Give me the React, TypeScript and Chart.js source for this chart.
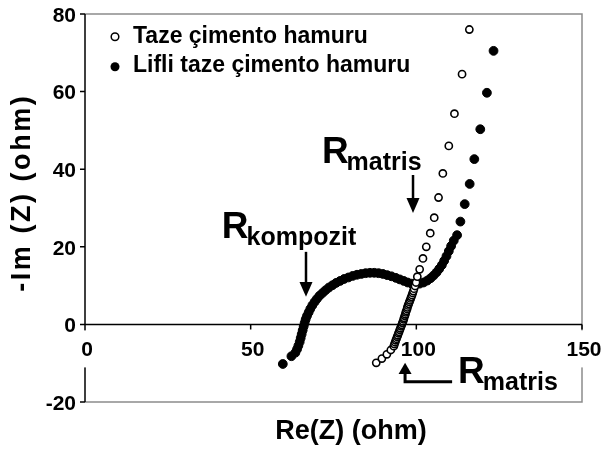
import React, { useEffect, useRef } from "react";
import { Chart, registerables } from "chart.js";
Chart.register(...registerables);

const seriesNames = ["Taze çimento hamuru", "Lifli taze çimento hamuru"];

const tazeX = [87.9, 89.6, 91.1, 92.3,
  93.2, 93.4, 93.6, 93.8, 94.0, 94.2, 94.4, 94.6, 94.8, 95.0, 95.2, 95.4, 95.6, 95.8, 96.0, 96.2, 96.3, 96.5,
  96.7, 96.8, 97.0, 97.2, 97.3, 97.5, 97.7, 97.9, 98.1, 98.3, 98.5, 98.7, 98.9, 99.1, 99.3, 99.6, 99.9,
  100.3, 101.0, 102.0, 103.0, 104.2, 105.4, 106.7, 108.0, 109.8, 111.5, 113.8, 116.0];
const tazeY = [-9.9, -8.8, -7.7, -6.6,
  -5.6, -5.1, -4.6, -4.1, -3.7, -3.2, -2.8, -2.3, -1.9, -1.4, -1.0, -0.5, -0.1, 0.4, 0.8, 1.3, 1.7, 2.2,
  2.6, 3.1, 3.5, 4.0, 4.4, 4.9, 5.3, 5.8, 6.2, 6.7, 7.1, 7.6, 8.1, 8.6, 9.2, 9.9, 10.8,
  12.3, 14.2, 17.0, 20.0, 23.5, 27.5, 32.7, 38.9, 46.0, 54.3, 64.5, 76.0];

const lifliX = [59.7, 62.3, 63.5, 64.0, 64.4, 64.8, 65.1, 65.4, 65.7, 66.0, 66.3, 66.6, 67.0, 67.5, 68.0,
  68.6, 69.3, 70.0, 70.8, 71.7, 72.6, 73.6, 74.7, 75.8, 77.0, 78.2, 79.5, 80.8, 82.1, 83.4, 84.7, 86.0,
  87.3, 88.6, 89.9, 91.2, 92.5, 93.8, 95.0, 96.2, 97.4, 98.6, 99.8, 101.0, 102.2, 103.3, 104.3, 105.2,
  106.1, 106.9, 107.7, 108.4, 109.1, 109.8, 110.5, 111.3, 112.3, 113.3, 114.6, 116.1, 117.5, 119.3, 121.3, 123.3];
const lifliY = [-10.2, -8.2, -7.3, -6.4, -5.5, -4.5, -3.5, -2.5, -1.5, -0.5, 0.4, 1.3, 2.2, 3.1, 4.0,
  4.9, 5.8, 6.6, 7.4, 8.1, 8.8, 9.5, 10.1, 10.7, 11.2, 11.7, 12.1, 12.5, 12.8, 13.0, 13.2, 13.3,
  13.3, 13.2, 13.0, 12.7, 12.4, 12.0, 11.6, 11.2, 10.8, 10.5, 10.4, 10.5, 10.8, 11.3, 11.9, 12.6,
  13.4, 14.3, 15.3, 16.4, 17.6, 18.9, 20.2, 21.6, 23.0, 26.5, 31.0, 36.2, 42.6, 50.3, 59.7, 70.5];

const xTicks = [0, 50, 100, 150];
const yTicks = [-20, 0, 20, 40, 60, 80];
const xTitle = "Re(Z) (ohm)";
const yTitle = "-Im (Z) (ohm)";

const F = '"Liberation Sans", Arial, Helvetica, sans-serif';

function drawR(ctx: CanvasRenderingContext2D, x: number, base: number, sub: string) {
  ctx.textAlign = "left";
  ctx.textBaseline = "alphabetic";
  ctx.font = `bold 37px ${F}`;
  ctx.fillText("R", x, base);
  const w = ctx.measureText("R").width;
  ctx.font = `bold 25px ${F}`;
  ctx.fillText(sub, x + w - 2, base + 7);
}

function head(ctx: CanvasRenderingContext2D, x: number, yBase: number, yTip: number) {
  ctx.beginPath();
  ctx.moveTo(x - 6.5, yBase);
  ctx.lineTo(x + 6.5, yBase);
  ctx.lineTo(x, yTip);
  ctx.closePath();
  ctx.fill();
}

const decor = {
  id: "decor",
  beforeDatasetsDraw(chart: any) {
    const { ctx, chartArea: a, scales } = chart;
    const xs = scales.x, ys = scales.y;
    const X = (v: number) => xs.getPixelForValue(v);
    const Y = (v: number) => ys.getPixelForValue(v);
    ctx.save();
    const y0 = Y(0);
    ctx.strokeStyle = "#8c8c8c";
    ctx.lineWidth = 1.5;
    ctx.beginPath();
    ctx.moveTo(a.left, a.top);
    ctx.lineTo(a.right, a.top);
    ctx.lineTo(a.right, a.bottom);
    ctx.lineTo(a.left, a.bottom);
    ctx.stroke();
    ctx.strokeStyle = "#000";
    ctx.lineWidth = 1.5;
    ctx.beginPath();
    ctx.moveTo(a.left, a.top);
    ctx.lineTo(a.left, a.bottom);
    ctx.moveTo(a.left, y0);
    ctx.lineTo(a.right, y0);
    for (const v of xTicks) {
      ctx.moveTo(X(v), y0);
      ctx.lineTo(X(v), y0 + 5);
    }
    for (const v of yTicks) {
      ctx.moveTo(a.left - 5, Y(v));
      ctx.lineTo(a.left, Y(v));
    }
    ctx.stroke();

    ctx.fillStyle = "#000";
    ctx.font = `bold 21px ${F}`;
    ctx.textAlign = "center";
    ctx.textBaseline = "middle";
    for (const v of xTicks) {
      const s = String(v);
      const w = ctx.measureText(s).width;
      const cx = X(v) + 2;
      ctx.fillStyle = "#fff";
      ctx.fillRect(cx - w / 2 - 4, y0 + 6, w + 8, 37);
      ctx.fillStyle = "#000";
      ctx.fillText(s, cx, y0 + 26);
    }
    ctx.textAlign = "right";
    for (const v of yTicks) {
      ctx.fillText(String(v), a.left - 9, Y(v) + 2);
    }
    ctx.font = `bold 27px ${F}`;
    ctx.textAlign = "center";
    ctx.fillText(xTitle, 351, 432);
    ctx.save();
    ctx.translate(23, 194);
    ctx.rotate(-Math.PI / 2);
    ctx.font = `bold 27px ${F}`;
    const w0 = ctx.measureText(yTitle).width;
    const sp = Math.max(0, (198 - w0) / yTitle.length);
    (ctx as any).letterSpacing = `${sp}px`;
    ctx.fillText(yTitle, sp / 2, 0);
    ctx.restore();

    ctx.font = `bold 23px ${F}`;
    ctx.textAlign = "left";
    ctx.textBaseline = "middle";
    ctx.fillText(seriesNames[0], 133, 37);
    ctx.fillText(seriesNames[1], 133, 66);
    ctx.beginPath();
    ctx.arc(115, 36.7, 3.8, 0, Math.PI * 2);
    ctx.fillStyle = "#fff";
    ctx.fill();
    ctx.lineWidth = 1.5;
    ctx.strokeStyle = "#000";
    ctx.stroke();
    ctx.beginPath();
    ctx.arc(115, 66.7, 4.5, 0, Math.PI * 2);
    ctx.fillStyle = "#000";
    ctx.fill();

    ctx.fillStyle = "#000";
    ctx.strokeStyle = "#000";
    ctx.lineWidth = 2.5;
    drawR(ctx, X(71.5), Y(41.6), "matris");
    drawR(ctx, X(41.3), Y(22.3), "kompozit");
    drawR(ctx, X(112.6), Y(-15.1), "matris");
    ctx.beginPath();
    ctx.moveTo(X(99.0), Y(38.5));
    ctx.lineTo(X(99.0), Y(32.0));
    ctx.stroke();
    head(ctx, X(99.0), Y(32.6), Y(28.7));
    ctx.beginPath();
    ctx.moveTo(X(66.7), Y(18.7));
    ctx.lineTo(X(66.7), Y(10.3));
    ctx.stroke();
    head(ctx, X(66.7), Y(10.9), Y(7.1));
    ctx.lineWidth = 3;
    ctx.beginPath();
    ctx.moveTo(X(110.8), Y(-14.8));
    ctx.lineTo(X(96.6), Y(-14.8));
    ctx.lineTo(X(96.6), Y(-12.3));
    ctx.stroke();
    head(ctx, X(96.6), Y(-12.8), Y(-9.9));
    ctx.restore();
  },
};

export default function App() {
  const ref = useRef<HTMLCanvasElement>(null);
  useEffect(() => {
    if (!ref.current) return;
    const chart = new Chart(ref.current, {
      type: "scatter",
      data: {
        datasets: [
          {
            label: seriesNames[0],
            data: tazeX.map((x, i) => ({ x, y: tazeY[i] })),
            pointStyle: "circle",
            pointRadius: 3.6,
            pointBorderWidth: 1.6,
            pointBackgroundColor: "#fff",
            pointBorderColor: "#000",
            order: 0,
          },
          {
            label: seriesNames[1],
            data: lifliX.map((x, i) => ({ x, y: lifliY[i] })),
            pointStyle: "circle",
            pointRadius: 4.4,
            pointBorderWidth: 1,
            pointBackgroundColor: "#000",
            pointBorderColor: "#000",
            order: 1,
          },
        ],
      },
      options: {
        responsive: false,
        animation: false,
        layout: { padding: { left: 85, right: 32, top: 14, bottom: 49 } },
        plugins: { legend: { display: false }, tooltip: { enabled: false } },
        events: [],
        scales: {
          x: { type: "linear", min: 0, max: 150, display: false },
          y: { type: "linear", min: -20, max: 80, display: false },
        },
      },
      plugins: [decor],
    });
    return () => chart.destroy();
  }, []);
  return (
    <canvas
      ref={ref}
      width={614}
      height={451}
      style={{ position: "fixed", left: 0, top: 0, display: "block", background: "#fff" }}
    />
  );
}
